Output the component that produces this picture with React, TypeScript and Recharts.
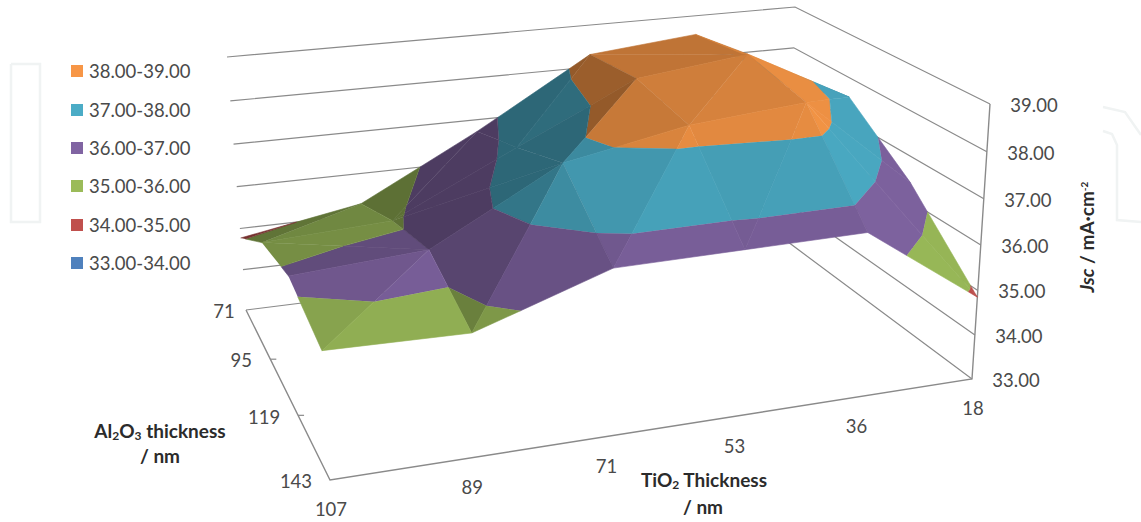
import { Legend, Scatter, ScatterChart, XAxis, YAxis } from 'recharts';

const tio2Ticks = ['107', '89', '71', '53', '36', '18'];
const al2o3Ticks = ['71', '95', '119', '143'];
const jscTicks = [33, 34, 35, 36, 37, 38, 39];

// Jsc per TiO2 thickness (107 -> 18), one list per Al2O3 thickness
const jscAl71 = [34.77, 35.27, 36.72, 38.3, 38.55, 37.0];
const jscAl95 = [35.72, 35.87, 37.22, 38.5, 38.8, 37.55];
const jscAl119 = [36.1, 36.28, 37.8, 38.3, 38.5, 36.42];
const jscAl143 = [35.76, 35.68, 36.62, 36.62, 36.62, 34.85];
const jscRows = [jscAl71, jscAl95, jscAl119, jscAl143];

const bandLabels = ['38.00-39.00', '37.00-38.00', '36.00-37.00', '35.00-36.00', '34.00-35.00', '33.00-34.00'];
const bandFloors = [38, 37, 36, 35, 34, 33];
const bandColors = ['#F79646', '#4BACC6', '#8064A2', '#9BBB59', '#C0504D', '#4F81BD'];

const FONT = 'Lato, "Open Sans", sans-serif';
const AXIS_COLOR = '#8a8a8a';

type Pt = { x: number; y: number };
type Corners = [number[], number[], number[], number[]];

// wall corners on screen: back-left, back-right, front-right, front-left
const floorCorners: Corners = [[246, 310], [788, 242], [972, 379], [330, 480]];
const topCorners: Corners = [[227, 57], [795, 7], [990, 104], [312, 191]];

function homography([p0, p1, p2, p3]: Corners) {
  const sx = p0[0] - p1[0] + p2[0] - p3[0];
  const sy = p0[1] - p1[1] + p2[1] - p3[1];
  const dx1 = p1[0] - p2[0];
  const dy1 = p1[1] - p2[1];
  const dx2 = p3[0] - p2[0];
  const dy2 = p3[1] - p2[1];
  const den = dx1 * dy2 - dx2 * dy1;
  const g = (sx * dy2 - dx2 * sy) / den;
  const h = (dx1 * sy - sx * dy1) / den;
  const a = p1[0] - p0[0] + g * p1[0];
  const b = p3[0] - p0[0] + h * p3[0];
  const d = p1[1] - p0[1] + g * p1[1];
  const e = p3[1] - p0[1] + h * p3[1];
  return (u: number, v: number) => {
    const w = g * u + h * v + 1;
    return [(a * u + b * v + p0[0]) / w, (d * u + e * v + p0[1]) / w];
  };
}

const floorAt = homography(floorCorners);
const topAt = homography(topCorners);

// u runs along TiO2, v along Al2O3, both 0..1
function project(u: number, v: number, z: number): Pt {
  const r = (z - 33) / 6;
  const t = r - 0.05 * r * (1 - r); // upper units look a bit taller
  const f = floorAt(u, v);
  const c = topAt(u, v);
  return { x: f[0] + (c[0] - f[0]) * t, y: f[1] + (c[1] - f[1]) * t };
}

type V3 = [number, number, number];

function clipAbove(poly: V3[], level: number, keepAbove: boolean) {
  const out: V3[] = [];
  poly.forEach((a, i) => {
    const b = poly[(i + 1) % poly.length];
    const aIn = keepAbove ? a[2] >= level : a[2] <= level;
    const bIn = keepAbove ? b[2] >= level : b[2] <= level;
    if (aIn) out.push(a);
    if (aIn !== bIn) {
      const t = (level - a[2]) / (b[2] - a[2]);
      out.push([a[0] + (b[0] - a[0]) * t, a[1] + (b[1] - a[1]) * t, level]);
    }
  });
  return out;
}

function shade(hex: string, k: number) {
  const n = parseInt(hex.slice(1), 16);
  const ch = [n >> 16, (n >> 8) & 255, n & 255].map((c) => Math.min(255, Math.round(c * k)));
  return `rgb(${ch.join(',')})`;
}

// flat light per facet, from the front right
function facetLight(t: V3[]) {
  const w = (p: V3) => [p[0] * 5, p[1] * 3, (p[2] - 33) * 0.62];
  const [a, b, c] = t.map(w);
  const e1 = [b[0] - a[0], b[1] - a[1], b[2] - a[2]];
  const e2 = [c[0] - a[0], c[1] - a[1], c[2] - a[2]];
  let n = [e1[1] * e2[2] - e1[2] * e2[1], e1[2] * e2[0] - e1[0] * e2[2], e1[0] * e2[1] - e1[1] * e2[0]];
  if (n[2] < 0) n = n.map((q) => -q);
  const len = Math.hypot(n[0], n[1], n[2]);
  const dot = (n[0] * 0.45 + n[1] * 0.55 + n[2] * 0.7) / len;
  return Math.max(0.6, Math.min(1, 0.53 + 0.46 * dot));
}

function buildFacets() {
  const tris: V3[][] = [];
  const nu = tio2Ticks.length - 1;
  const nv = al2o3Ticks.length - 1;
  for (let j = 0; j < nv; j++) {
    for (let i = 0; i < nu; i++) {
      const p = (ii: number, jj: number): V3 => [ii / nu, jj / nv, jscRows[jj][ii]];
      const bl = p(i, j);
      const br = p(i + 1, j);
      const fl = p(i, j + 1);
      const fr = p(i + 1, j + 1);
      // the cell folds along its higher diagonal
      if (br[2] + fl[2] >= bl[2] + fr[2]) tris.push([bl, br, fl], [br, fr, fl]);
      else tris.push([bl, br, fr], [bl, fr, fl]);
    }
  }
  const depth = (t: V3[]) => {
    const c = floorAt((t[0][0] + t[1][0] + t[2][0]) / 3, (t[0][1] + t[1][1] + t[2][1]) / 3);
    return c[1];
  };
  tris.sort((a, b) => depth(a) - depth(b));

  const facets: { points: Pt[]; color: string }[] = [];
  tris.forEach((t) => {
    const light = facetLight(t);
    bandFloors.forEach((lo, b) => {
      const part = clipAbove(clipAbove(t, lo, true), lo + 1, false);
      if (part.length < 3) return;
      facets.push({ points: part.map((q) => project(q[0], q[1], q[2])), color: shade(bandColors[b], light) });
    });
  });
  return facets;
}

const facets = buildFacets();

const wallLines = jscTicks.map((z) => [project(0, 0, z), project(1, 0, z), project(1, 1, z)]);
const frameLine = [project(0, 0, 33), project(0, 1, 33), project(1, 1, 33), project(1, 1, 39)];
const alTickMarks = [1 / 3, 2 / 3].map((v) => {
  const p = project(0, v, 33);
  return [p, { x: p.x + 6, y: p.y }];
});

const alLabelOffset = [[-22, 1], [-29, 1], [-34, 2], [-34, 1]];
const labelMarks = [
  ...al2o3Ticks.map((label, j) => {
    const p = project(0, j / 3, 33);
    return { x: p.x + alLabelOffset[j][0], y: p.y + alLabelOffset[j][1], label };
  }),
  ...tio2Ticks.map((label, i) => {
    const p = project(i / 5, 1, 33);
    return { x: p.x + 1, y: p.y + 29, label };
  }),
  ...jscTicks.map((z) => {
    const p = project(1, 1, z);
    return { x: p.x + 44, y: p.y + 1, label: z.toFixed(2) };
  }),
];

const logoLeft = [{ x: 11, y: 64 }, { x: 40, y: 64 }, { x: 40, y: 222 }, { x: 11, y: 222 }, { x: 11, y: 64 }];
const logoRight = [{ x: 1103, y: 131 }, { x: 1112, y: 134 }, { x: 1117, y: 145 }, { x: 1117, y: 220 }, { x: 1141, y: 222 }];
const logoRightTop = [{ x: 1103, y: 107 }, { x: 1125, y: 112 }, { x: 1141, y: 135 }];

const noMark = () => null;

function TickText(props: any) {
  return (
    <text x={props.cx} y={props.cy} textAnchor="middle" dominantBaseline="central" fontFamily={FONT} fontSize={18.5} fill="#4a4a4a">
      {props.payload.label}
    </text>
  );
}

function AxisTitles(props: any) {
  const common = { fontFamily: FONT, fontSize: 19, fontWeight: 700, fill: '#2b2b2b', textAnchor: 'middle' as const };
  const sub = { baselineShift: '-20%', fontSize: 12 };
  return (
    <g>
      <text {...common} x={160} y={438}>
        Al<tspan style={sub}>2</tspan>O<tspan style={sub}>3</tspan> thickness
      </text>
      <text {...common} x={160} y={463}>/ nm</text>
      <text {...common} x={704} y={487}>
        TiO<tspan style={sub}>2</tspan> Thickness
      </text>
      <text {...common} x={703} y={514}>/ nm</text>
      <text {...common} x={0} y={0} transform={`translate(${props.cx} ${props.cy}) rotate(-90)`}>
        <tspan fontStyle="italic">Jsc</tspan> / mA·cm<tspan style={{ baselineShift: 'super', fontSize: 10 }}>-2</tspan>
      </text>
    </g>
  );
}

function BandLegend() {
  return (
    <div style={{ fontFamily: FONT, fontSize: 18.5, color: '#4a4a4a' }}>
      {bandLabels.map((label, i) => (
        <div key={label} style={{ display: 'flex', alignItems: 'center', height: 38.4 }}>
          <span style={{ width: 12, height: 12, background: bandColors[i], marginRight: 6 }} />
          {label}
        </div>
      ))}
    </div>
  );
}

function polyline(key: string, data: Pt[], stroke: string, width: number) {
  return (
    <Scatter
      key={key}
      data={data}
      shape={noMark}
      line={{ stroke, strokeWidth: width, fill: 'none' }}
      legendType="none"
      isAnimationActive={false}
    />
  );
}

export default function App() {
  return (
    <div style={{ position: 'absolute', left: 0, top: 0, width: 1141, height: 522, background: '#fff' }}>
      <ScatterChart width={1141} height={522} margin={{ top: 0, right: 0, bottom: 0, left: 0 }}>
        <XAxis type="number" dataKey="x" domain={[0, 1141]} hide />
        <YAxis type="number" dataKey="y" domain={[0, 522]} reversed hide />
        {polyline('logo-l', logoLeft, '#f0f3f3', 2.5)}
        {polyline('logo-r', logoRight, '#f0f3f3', 2.5)}
        {polyline('logo-t', logoRightTop, '#f0f3f3', 2.5)}
        {wallLines.map((line, i) => polyline(`wall-${i}`, line, AXIS_COLOR, 1.2))}
        {polyline('frame', frameLine, AXIS_COLOR, 1.4)}
        {alTickMarks.map((line, i) => polyline(`tick-${i}`, line, AXIS_COLOR, 1.2))}
        {facets.map((f, i) => (
          <Scatter
            key={`facet-${i}`}
            data={f.points}
            shape={noMark}
            line={{ fill: f.color, stroke: f.color, strokeWidth: 0.6 }}
            legendType="none"
            isAnimationActive={false}
          />
        ))}
        <Scatter data={labelMarks} shape={TickText} legendType="none" isAnimationActive={false} />
        <Scatter data={[{ x: 1094, y: 237 }]} shape={AxisTitles} legendType="none" isAnimationActive={false} />
        <Legend
          layout="vertical"
          align="center"
          verticalAlign="middle"
          content={BandLegend}
          wrapperStyle={{ left: 71, top: 52, width: 140 }}
        />
      </ScatterChart>
    </div>
  );
}
